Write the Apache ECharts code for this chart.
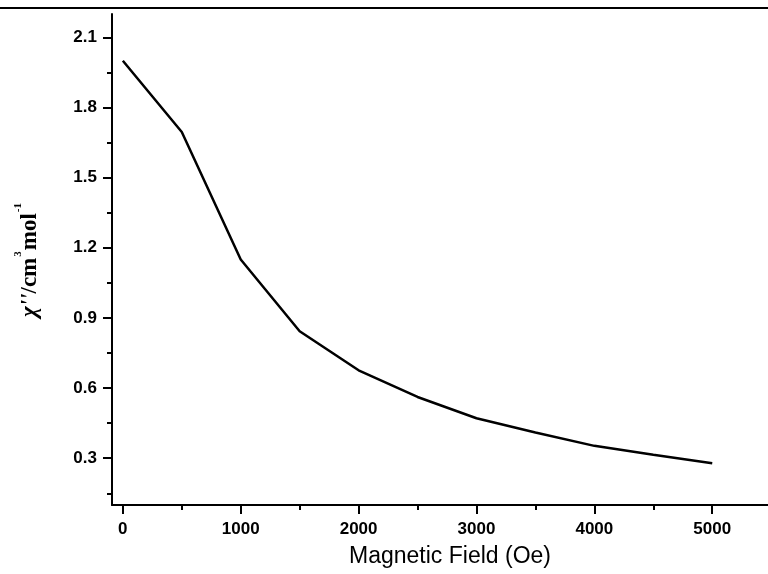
<!DOCTYPE html>
<html>
<head>
<meta charset="utf-8">
<script src="https://cdn.jsdelivr.net/npm/echarts@6/dist/echarts.min.js"></script>
<style>html,body{margin:0;padding:0;background:#fff;}#c{width:768px;height:574px;}</style>
</head>
<body>
<div id="c"></div>
<script>
const fieldOe = [0, 500, 1000, 1500, 2000, 2500, 3000, 3500, 4000, 4500, 5000];
const chiValues = [2.0, 1.695, 1.15, 0.843, 0.676, 0.562, 0.471, 0.41, 0.353, 0.315, 0.279];
const xMajorTicks = [0, 1000, 2000, 3000, 4000, 5000];
const xMinorTicks = [500, 1500, 2500, 3500, 4500];
const yMajorTicks = [0.3, 0.6, 0.9, 1.2, 1.5, 1.8, 2.1];
const yMinorTicks = [0.15, 0.45, 0.75, 1.05, 1.35, 1.65, 1.95];

const chart = echarts.init(document.getElementById('c'));
const X_MIN = -92, X_MAX = 5473, Y_MIN = 0.1, Y_MAX = 2.2;
const axisLineStyle = { color: '#000', width: 2 };
const labelFont = { color: '#000', fontFamily: 'Liberation Sans, Arial, sans-serif', fontWeight: 'bold', fontSize: 17 };
const serif = 'Liberation Serif, Times New Roman, serif';

chart.setOption({
  animation: false,
  backgroundColor: '#fff',
  grid: { left: 112, right: 0, top: 14, bottom: 69, containLabel: false },
  graphic: [{
    type: 'line', shape: { x1: 0, y1: 8, x2: 768, y2: 8 },
    style: { stroke: '#000', lineWidth: 2 }
  }],
  xAxis: [{
    type: 'value', min: X_MIN, max: X_MAX, position: 'bottom',
    axisLine: { show: true, onZero: false, lineStyle: axisLineStyle },
    axisTick: { show: true, inside: false, length: 9, lineStyle: { color: '#000', width: 2 }, customValues: xMajorTicks },
    axisLabel: Object.assign({ margin: 16, customValues: xMajorTicks, formatter: v => String(v) }, labelFont),
    splitLine: { show: false },
    name: 'Magnetic Field (Oe)', nameLocation: 'middle', nameGap: 40,
    nameTextStyle: { color: '#000', fontFamily: 'Liberation Sans, Arial, sans-serif', fontSize: 23, padding: [0, 0, 0, 20] }
  }, {
    type: 'value', min: X_MIN, max: X_MAX, position: 'bottom',
    axisLine: { show: false, onZero: false },
    axisTick: { show: true, inside: false, length: 5, lineStyle: { color: '#000', width: 2 }, customValues: xMinorTicks },
    axisLabel: { show: false }, splitLine: { show: false }
  }],
  yAxis: [{
    type: 'value', min: Y_MIN, max: Y_MAX, position: 'left',
    axisLine: { show: true, onZero: false, lineStyle: axisLineStyle },
    axisTick: { show: true, inside: false, length: 9, lineStyle: { color: '#000', width: 2 }, customValues: yMajorTicks },
    axisLabel: Object.assign({ margin: 15, customValues: yMajorTicks, formatter: v => v.toFixed(1) }, labelFont),
    splitLine: { show: false },
    name: '{chi|χ\'\'}{b|/cm}{sup|3}{b|mol}{sup|-1}',
    nameLocation: 'middle', nameGap: 64, nameRotate: 90,
    nameTextStyle: {
      color: '#000',
      rich: {
        chi: { fontFamily: serif, fontStyle: 'italic', fontWeight: 'bold', fontSize: 23, color: '#000' },
        b: { fontFamily: serif, fontWeight: 'bold', fontSize: 23, color: '#000' },
        sup: { fontFamily: serif, fontWeight: 'bold', fontSize: 11, color: '#000', padding: [0, 1, 24, 1] }
      }
    }
  }, {
    type: 'value', min: Y_MIN, max: Y_MAX, position: 'left',
    axisLine: { show: false, onZero: false },
    axisTick: { show: true, inside: false, length: 5, lineStyle: { color: '#000', width: 2 }, customValues: yMinorTicks },
    axisLabel: { show: false }, splitLine: { show: false }
  }],
  series: [{
    type: 'line', xAxisIndex: 0, yAxisIndex: 0,
    data: fieldOe.map((x, i) => [x, chiValues[i]]),
    showSymbol: false, smooth: false,
    lineStyle: { color: '#000', width: 2.5 }
  }]
});
</script>
</body>
</html>
